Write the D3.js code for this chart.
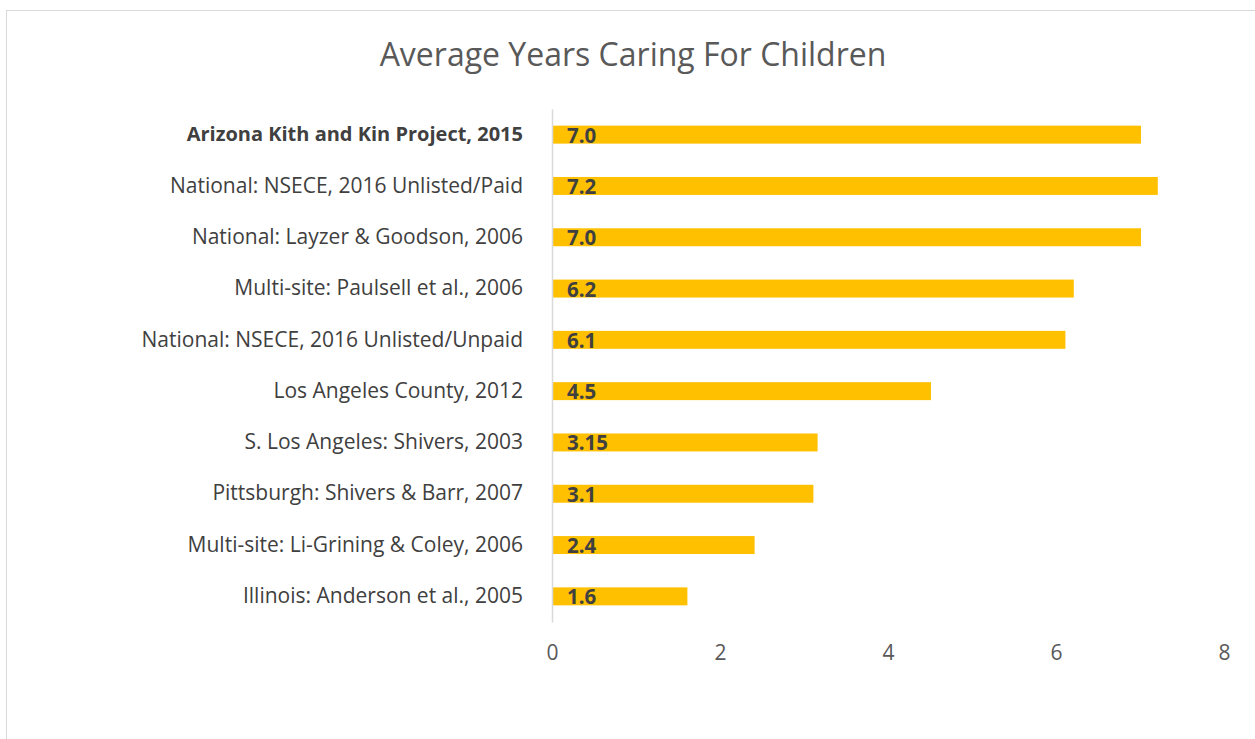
<!DOCTYPE html>
<html>
<head>
<meta charset="utf-8">
<script src="https://cdn.jsdelivr.net/npm/d3@7"></script>
<style>
  body { margin: 0; background: #fff; }
</style>
</head>
<body>
<svg id="chart"></svg>
<script>
const categories = [
  "Arizona Kith and Kin Project, 2015",
  "National: NSECE, 2016 Unlisted/Paid",
  "National: Layzer & Goodson, 2006",
  "Multi-site: Paulsell et al., 2006",
  "National: NSECE, 2016 Unlisted/Unpaid",
  "Los Angeles County, 2012",
  "S. Los Angeles: Shivers, 2003",
  "Pittsburgh: Shivers & Barr, 2007",
  "Multi-site: Li-Grining & Coley, 2006",
  "Illinois: Anderson et al., 2005"
]
const values = [7.0, 7.2, 7.0, 6.2, 6.1, 4.5, 3.15, 3.1, 2.4, 1.6]
const valueLabels = ["7.0", "7.2", "7.0", "6.2", "6.1", "4.5", "3.15", "3.1", "2.4", "1.6"]
const xTicks = [0, 2, 4, 6, 8]
const title = "Average Years Caring For Children"

const width = 1255, height = 739
const margin = {"top": 109, "left": 552, "right": 31, "bottom": 117}
const font = "'Open Sans', sans-serif"

let canvas = d3.select("#chart")
  .attr("width", width)
  .attr("height", height)

// chart frame
canvas.append("rect")
  .attr("x", 6.5)
  .attr("y", 10.5)
  .attr("width", width + 10)
  .attr("height", height + 10)
  .attr("fill", "white")
  .attr("stroke", "#d9d9d9")
  .attr("stroke-width", 1)

const x = d3.scaleLinear()
  .domain([0, 8])
  .range([margin.left, width - margin.right])

const y = d3.scaleBand()
  .domain(categories)
  .range([margin.top, height - margin.bottom])
  .paddingInner(0.65)
  .paddingOuter(0.325)

canvas.append("text")
  .attr("x", 633)
  .attr("y", 66)
  .attr("text-anchor", "middle")
  .attr("font-family", font)
  .attr("font-size", 32)
  .attr("fill", "#595959")
  .text(title)

// bars
canvas.append("g")
  .selectAll("rect")
  .data(values)
  .enter()
  .append("rect")
  .attr("x", x(0) + 1)
  .attr("y", (d, i) => y(categories[i]))
  .attr("width", d => x(d) - x(0))
  .attr("height", y.bandwidth())
  .attr("fill", "#ffc000")

// value labels
canvas.append("g")
  .selectAll("text")
  .data(valueLabels)
  .enter()
  .append("text")
  .attr("x", x(0) + 15)
  .attr("y", (d, i) => y(categories[i]) + y.bandwidth() / 2)
  .attr("dominant-baseline", "central")
  .attr("font-family", font)
  .attr("font-weight", "bold")
  .attr("font-size", 20.5)
  .attr("fill", "#404040")
  .text(d => d)

// category axis
let yAxis = canvas.append("g")
  .attr("transform", `translate(${x(0)},0)`)
  .call(d3.axisLeft(y).tickSize(0).tickPadding(29))
yAxis.select(".domain")
  .attr("stroke", "#d9d9d9")
  .attr("stroke-width", 1.5)
yAxis.selectAll("text")
  .attr("font-family", font)
  .attr("font-size", (d, i) => i == 0 ? 20 : 21)
  .attr("fill", "#404040")
  .attr("font-weight", (d, i) => i == 0 ? "bold" : "normal")

// value axis
let xAxis = canvas.append("g")
  .attr("transform", `translate(0,${height - margin.bottom})`)
  .call(d3.axisBottom(x).tickValues(xTicks).tickSize(0).tickPadding(23))
xAxis.select(".domain").remove()
xAxis.selectAll("text")
  .attr("font-family", font)
  .attr("font-size", 21)
  .attr("fill", "#595959")
</script>
</body>
</html>
